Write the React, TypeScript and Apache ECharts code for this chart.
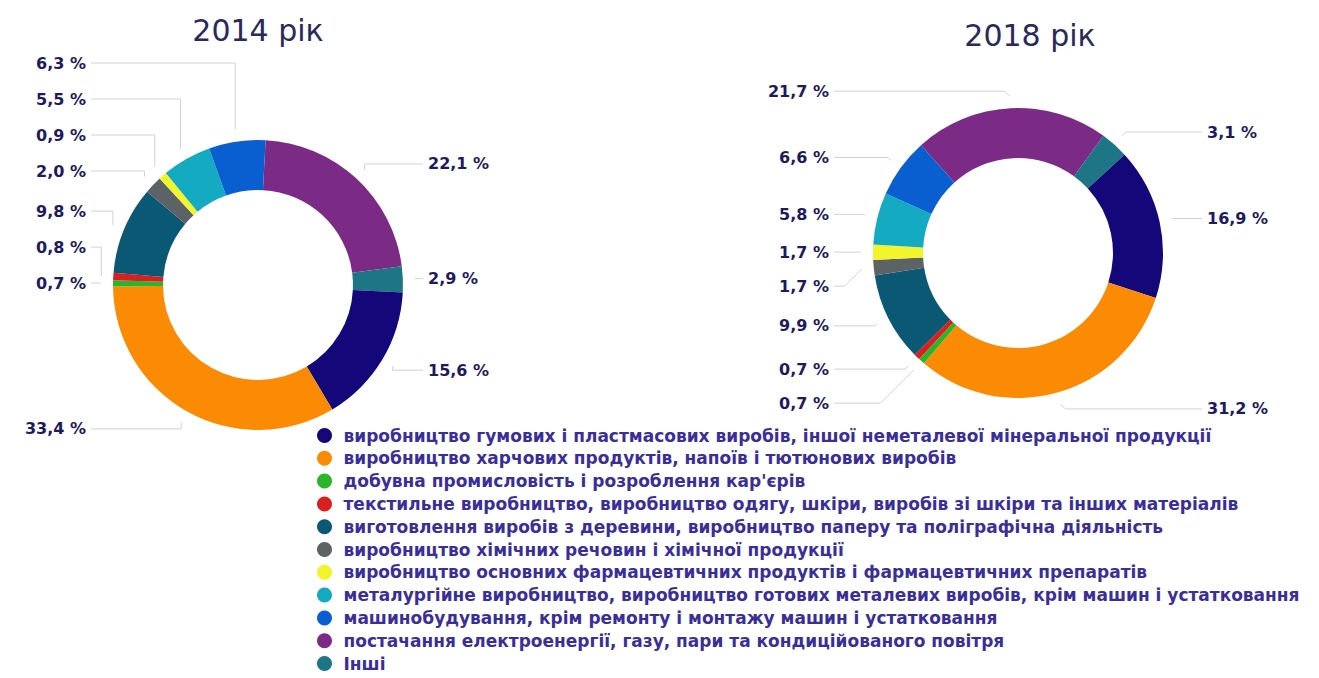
import React, { useEffect, useRef } from "react";
import * as echarts from "echarts";

// ---- data ----
const categories = [
  "виробництво гумових і пластмасових виробів, іншої неметалевої мінеральної продукції",
  "виробництво харчових продуктів, напоїв і тютюнових виробів",
  "добувна промисловість і розроблення кар'єрів",
  "текстильне виробництво, виробництво одягу, шкіри, виробів зі шкіри та інших матеріалів",
  "виготовлення виробів з деревини, виробництво паперу та поліграфічна діяльність",
  "виробництво хімічних речовин і хімічної продукції",
  "виробництво основних фармацевтичних продуктів і фармацевтичних препаратів",
  "металургійне виробництво, виробництво готових металевих виробів, крім машин і устатковання",
  "машинобудування, крім ремонту і монтажу машин і устатковання",
  "постачання електроенергії, газу, пари та кондиційованого повітря",
  "Інші",
];
const values2014 = [15.6, 33.4, 0.7, 0.8, 9.8, 2.0, 0.9, 5.5, 6.3, 22.1, 2.9];
const values2018 = [16.9, 31.2, 0.7, 0.7, 9.9, 1.7, 1.7, 5.8, 6.6, 21.7, 3.1];
const yearTitles = ["2014 рік", "2018 рік"];
// order in which the slices run clockwise around each ring
const pieOrder = [9, 10, 0, 1, 2, 3, 4, 5, 6, 7, 8];

// ---- styles / layout ----
const colors = [
  "#13077a",
  "#fb8b05",
  "#2ab52a",
  "#d91f1f",
  "#0b5874",
  "#5d6266",
  "#f2f52c",
  "#13aac2",
  "#0a5fd0",
  "#7b2a86",
  "#1d7585",
];
const R_IN = 95;
const R_OUT = 145;
const chartsLayout = [
  {
    values: values2014,
    center: [258, 285],
    startAngle: 87,
    titleX: 258,
    titleTop: 15,
    leftColX: 86,
    rightColX: 428,
    stack: "up",
    elbow: "vertical",
    natR: 20,
    gap: 36,
  },
  {
    values: values2018,
    center: [1018, 253],
    startAngle: 132,
    titleX: 1030,
    titleTop: 20,
    leftColX: 829,
    rightColX: 1207,
    stack: "down",
    elbow: "diagonal",
    natR: 17,
    gap: 34,
  },
];

type LabelPos = { x: number; y: number; align: string; points: number[][] };

function computeLabels(cfg: any): LabelPos[] {
  const vals = pieOrder.map((i) => cfg.values[i]);
  const total = vals.reduce((a: number, b: number) => a + b, 0);
  const [cx, cy] = cfg.center;
  let cur = cfg.startAngle;
  const items = vals.map((v: number, k: number) => {
    const span = (v / total) * 360;
    const mid = ((cur - span / 2) * Math.PI) / 180;
    cur -= span;
    const p0 = [cx + (R_OUT + 12) * Math.cos(mid), cy - (R_OUT + 12) * Math.sin(mid)];
    const natY = cy - (R_OUT + cfg.natR) * Math.sin(mid);
    const left = Math.cos(mid) < 0;
    return { k, p0, natY, left, y: natY };
  });
  [true, false].forEach((side) => {
    const group = items.filter((it: any) => it.left === side);
    if (cfg.stack === "up") {
      group.sort((a: any, b: any) => b.natY - a.natY);
      let prev = Infinity;
      group.forEach((it: any) => {
        it.y = Math.min(it.natY, prev - cfg.gap);
        prev = it.y;
      });
    } else {
      group.sort((a: any, b: any) => a.natY - b.natY);
      let prev = -Infinity;
      group.forEach((it: any) => {
        it.y = Math.max(it.natY, prev + cfg.gap);
        prev = it.y;
      });
    }
  });
  return items.map((it: any) => {
    const x = it.left ? cfg.leftColX : cfg.rightColX;
    const endX = it.left ? x + 5 : x - 5;
    const dy = Math.abs(it.y - it.p0[1]);
    let p1x = it.p0[0];
    if (cfg.elbow === "diagonal") p1x = it.left ? it.p0[0] - dy : it.p0[0] + dy;
    return {
      x,
      y: it.y,
      align: it.left ? "right" : "left",
      points: [it.p0, [p1x, it.y], [endX, it.y]],
    };
  });
}

const fmt = (v: number) => `${v.toFixed(1).replace(".", ",")} %`;

export default function App() {
  const ref = useRef<HTMLDivElement>(null);
  useEffect(() => {
    if (!ref.current) return;
    const chart = echarts.init(ref.current, null, { renderer: "svg" });
    const labelSets = chartsLayout.map(computeLabels);
    const series = chartsLayout.map((cfg, s) => ({
      type: "pie",
      radius: [R_IN, R_OUT],
      center: cfg.center,
      startAngle: cfg.startAngle,
      clockwise: true,
      avoidLabelOverlap: false,
      silent: true,
      emphasis: { disabled: true },
      data: pieOrder.map((i) => ({
        name: categories[i],
        value: cfg.values[i],
        itemStyle: { color: colors[i] },
      })),
      label: {
        show: true,
        position: "outside",
        formatter: (p: any) => fmt(p.value),
        fontFamily: "DejaVu Sans",
        fontWeight: "bold",
        fontSize: 16,
        color: "#1e1a5e",
      },
      labelLine: {
        show: true,
        length: 10,
        length2: 10,
        smooth: false,
        lineStyle: { color: "#d2d2d2", width: 1 },
      },
      labelLayout: (p: any) => {
        const l = labelSets[s][p.dataIndex];
        return {
          x: l.x,
          y: l.y,
          align: l.align,
          verticalAlign: "middle",
          labelLinePoints: l.points,
        };
      },
    }));
    chart.setOption({
      animation: false,
      backgroundColor: "#ffffff",
      title: chartsLayout.map((cfg, s) => ({
        text: yearTitles[s],
        left: cfg.titleX,
        top: cfg.titleTop,
        textAlign: "center",
        padding: 0,
        textStyle: {
          fontFamily: "DejaVu Sans",
          fontSize: 30,
          fontWeight: "normal",
          color: "#2a2a5a",
        },
      })),
      legend: {
        orient: "vertical",
        left: 317,
        top: 427,
        height: 280,
        padding: 0,
        itemWidth: 28,
        itemHeight: 15,
        itemGap: 5.8,
        icon: "circle",
        selectedMode: false,
        data: categories,
        textStyle: {
          fontFamily: "DejaVu Sans",
          fontSize: 17,
          fontWeight: "bold",
          color: "#3a2e98",
          lineHeight: 17,
        },
      },
      series,
    });
    return () => chart.dispose();
  }, []);
  return (
    <div
      ref={ref}
      style={{ position: "absolute", left: 0, top: 0, width: 1319, height: 678, background: "#fff" }}
    />
  );
}
